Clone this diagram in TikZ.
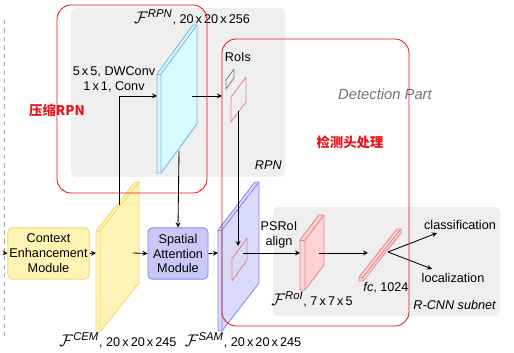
\documentclass[tikz,border=0pt]{standalone}
\usepackage{amsmath,amssymb}
\usepackage{fontspec}
\setmainfont{Liberation Sans}
\newfontfamily\cjk{Noto Sans CJK SC}
\usepackage{xcolor}
\usepackage{tikz}
\usetikzlibrary{arrows,positioning,calc}

\definecolor{cemfill}{HTML}{FFF4B4}
\definecolor{cemdraw}{HTML}{F5D673}
\definecolor{rpnfill}{HTML}{D6FCFF}
\definecolor{rpndraw}{HTML}{7FB2DF}
\definecolor{samfill}{HTML}{D9D9FA}
\definecolor{samdraw}{HTML}{8585F0}
\definecolor{sambox}{HTML}{C9C9F7}
\definecolor{roifill}{HTML}{FFD3D3}
\definecolor{roidraw}{HTML}{E68585}
\definecolor{panel}{HTML}{EFEFEF}
\definecolor{mark}{HTML}{E8141C}
\definecolor{detgray}{HTML}{6E7380}

% thin 3D feature map: #1 style, #2 x, #3 bottom y, #4 height, #5 dx, #6 dy, #7 thickness
\newcommand{\slab}[7]{%
  \filldraw[#1] (#2-#7,#3) -- (#2-#7,#3-#4) -- (#2+#5-#7,#3-#4-#6) -- (#2+#5,#3-#4-#6)
    -- (#2+#5,#3-#6) -- (#2,#3) -- cycle;
  \draw[#1] (#2,#3) -- (#2,#3-#4) -- (#2+#5,#3-#4-#6);
  \draw[#1] (#2-#7,#3-#4) -- (#2,#3-#4);
}
% feature name with a larger script F
\newcommand{\feat}[1]{{\fontsize{11.5}{12}\selectfont$\mathcal{F}^{\textit{#1}}$}}

\begin{document}
\begin{tikzpicture}[
  x=0.025cm, y=-0.025cm,
  font=\fontsize{9}{10.6}\selectfont,
  every node/.style={inner sep=0pt},
  module/.style={draw, rounded corners=3pt, line width=0.6pt, align=center, minimum height=1.28cm},
  panelbox/.style={fill=panel, rounded corners=3.5pt},
  markbox/.style={draw=mark, rounded corners=10pt, line width=0.6pt},
  marktext/.style={text=mark, font=\cjk\bfseries\fontsize{9.5}{11}\selectfont},
  fmap/.style={line width=0.6pt, line join=round},
  ptr/.style={->, >=stealth, line width=0.6pt}
]
\useasboundingbox (0,0) rectangle (514,353);

% panels
\fill[panelbox] (71,8) rectangle (285,177);
\fill[panelbox] (273,207) rectangle (500,316);
\draw[gray!70, dashed, line width=0.6pt] (4,20) -- (4,337);

% modules
\node[module, fill=cemfill, draw=cemdraw, minimum width=2.03cm] (cem) at (48.5,253.5) {Context\\Enhancement\\Module};
\node[module, fill=sambox, draw=samdraw, minimum width=1.5cm] (sam) at (178,253.5) {Spatial\\Attention\\Module};

% feature maps
\slab{fmap, fill=cemfill, draw=cemdraw}{100}{332}{101}{39}{49}{4}
\slab{fmap, fill=rpnfill, draw=rpndraw}{161}{173}{99}{36}{49}{4}
\slab{fmap, fill=samfill, draw=samdraw}{222}{331}{101}{37}{48}{4}
\slab{fmap, fill=roifill, draw=roidraw}{305}{290}{50}{19}{25}{5}
\slab{fmap, fill=roifill, draw=roidraw}{363}{281}{4}{38}{48}{4}

% RoIs
\draw[fmap, gray] (226,89) -- (226,80) -- (234,69) -- (234,78) -- cycle;
\draw[fmap, roidraw] (231,122) -- (231,97) -- (246,77) -- (246,102) -- cycle;
\draw[fmap, roidraw] (232,281) -- (232,259) -- (247,238) -- (247,260) -- cycle;

% anchor points
\coordinate (in) at (4,253);
\coordinate (fcem-w) at (96,253);
\coordinate (fcem-n) at (119,205);
\coordinate (fcem-e) at (133,253);
\coordinate (frpn-w) at (157,96);
\coordinate (frpn-e) at (192,96);
\coordinate (frpn-s) at (179,151);
\coordinate (rois-in) at (222,96);
\coordinate (fsam-w) at (218,253);
\coordinate (roi-s) at (238,111);
\coordinate (roisam) at (238,246);
\coordinate (roisam-e) at (243,253);
\coordinate (froi-w) at (300,253);
\coordinate (froi-e) at (319,253);
\coordinate (fc-w) at (368,253);
\coordinate (fc-e) at (388,252);
\coordinate (cls-in) at (437,233);
\coordinate (loc-in) at (432,269);

% labels
\node (frpn) at (192,17) {\feat{RPN}, 20\,x\,20\,x\,256};
\node[align=center] (dwconv) at (114,79.5) {5\,x\,5, DWConv\\1\,x\,1, Conv};
\node (rois) at (238,57) {RoIs};
\node[anchor=east, font=\fontsize{9}{10.6}\selectfont\itshape] (rpn) at (282,165) {RPN};
\node[text=detgray, font=\fontsize{10.5}{12}\selectfont\itshape] (detpart) at (385,94) {Detection Part};
\node[marktext] (dethead) at (350,142) {检测头处理};
\node[marktext] (zip) at (57,110) {压缩RPN};
\node[align=center] (psroi) at (279,234.5) {PSRoI\\align};
\node (froi) at (312,299) {\feat{RoI}, 7\,x\,7\,x\,5};
\node (fc) at (386,288) {\textit{fc}, 1024};
\node (cls) at (460,225) {classification};
\node (loc) at (453,278) {localization};
\node[anchor=east, font=\fontsize{9}{10.6}\selectfont\itshape] (rcnn) at (496,305) {R-CNN subnet};
\node (fcem) at (118,340) {\feat{CEM}, 20\,x\,20\,x\,245};
\node (fsam) at (243,340) {\feat{SAM}, 20\,x\,20\,x\,245};

% connectors
\draw[ptr] (in) -- (cem.west);
\draw[ptr] (cem.east) -- (fcem-w);
\draw[ptr] (fcem-n) |- (frpn-w);
\draw[ptr] (frpn-e) -- (rois-in);
\draw[ptr] (frpn-s) -- (sam.north);
\draw[ptr] (fcem-e) -- (sam.west);
\draw[ptr] (sam.east) -- (fsam-w);
\draw[ptr] (roi-s) -- (roisam);
\draw[ptr] (roisam-e) -- (froi-w);
\draw[ptr] (froi-e) -- (fc-w);
\draw[ptr] (fc-e) -- (cls-in);
\draw[ptr] (fc-e) -- (loc-in);

% red marks
\draw[markbox] (57,5) rectangle (207,193);
\draw[markbox] (222,39) rectangle (409,326);
\end{tikzpicture}
\end{document}
